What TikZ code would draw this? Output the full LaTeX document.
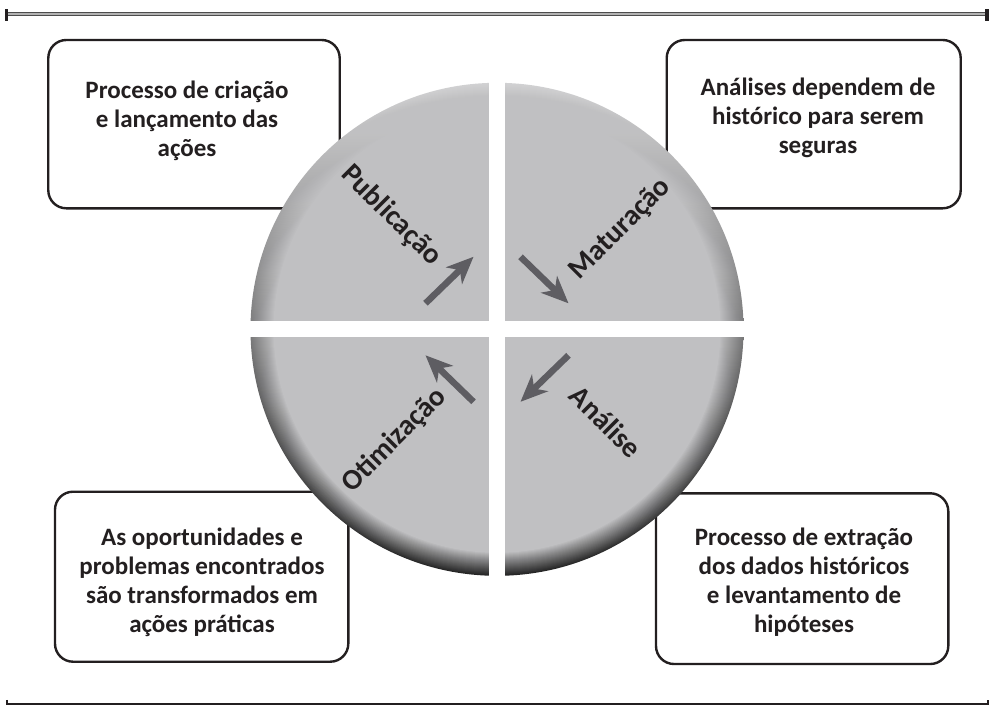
\documentclass[tikz,border=0pt]{standalone}
\usepackage{fontspec}
\setmainfont{Carlito}
\usepackage{tikz}
\usetikzlibrary{arrows.meta,positioning}
\definecolor{discface}{HTML}{C0C0C2}
\definecolor{discarrow}{HTML}{5E5D62}
\definecolor{inkblack}{HTML}{231F20}
\tikzset{
	note/.style={draw=inkblack, line width=1.2pt, rounded corners=9pt, fill=white, inner sep=0pt},
	note text/.style={align=center, text=inkblack, inner sep=0pt,
		font=\fontsize{12.5}{14.5}\selectfont\bfseries},
	phase/.style={text=inkblack, inner sep=0pt,
		font=\fontsize{14.5}{16}\selectfont\bfseries},
	ar/.style={draw=discarrow, line width=3.25pt,
		-{Stealth[length=13.5pt,width=11.5pt,inset=4pt]}},
	gap/.style={fill=white}
}

\begin{document}
\begin{tikzpicture}[x=0.5pt,y=0.5pt]
  \useasboundingbox (-497,-377.7) rectangle (492,329.3);
  % rules
  \draw[line width=2pt, draw=black!70] (-489,315) -- (488,315);
  \draw[line width=0.8pt, draw=black!30] (-489,315) -- (488,315);
  \fill[inkblack] (-492,308.6) rectangle (-489,320);
  \fill[inkblack] (488,308.6) rectangle (492,320);
  \draw[line width=1pt, draw=inkblack] (-489.5,-370.5) -- (-489.5,-374.7) -- (491.2,-374.7) -- (491.2,-370.5);

  % boxes
  \node[note, minimum width=145.7pt, minimum height=84.15pt] (publbox) at (-303,205.15) {};
  \node[note, minimum width=147pt, minimum height=84.15pt] (matbox) at (316.7,205.15) {};
  \node[note, minimum width=146.65pt, minimum height=85pt] (otibox) at (-295.35,-247.4) {};
  \node[note, minimum width=146.15pt, minimum height=85.35pt] (anabox) at (305.15,-249.35) {};
  \node[note text] (publtext) at (-310,208.3) {Processo de criação\\e lançamento das\\ações};
  \node[note text] (mattext) at (321,211.3) {Análises dependem de\\histórico para serem\\seguras};
  \node[note text] (otitext) at (-295,-252.7) {As oportunidades e\\problemas encontrados\\são transformados em\\ações práticas};
  \node[note text] (anatext) at (307,-252.7) {Processo de extração\\dos dados históricos\\e levantamento de\\hipóteses};

  % disc
  \shade[top color=discface!70!white, middle color=black!55, bottom color=black!88] (0,0) circle (246.5);
  \foreach \k in {1,...,24}{
    \pgfmathsetmacro\op{1/(25-\k)}
    \fill[discface, opacity=\op] (0,0) circle ({247.5-\k});
  }
  \fill[gap] (-7.9,-250) rectangle (7.9,250);
  \fill[gap] (-250,-8) rectangle (250,8);

  \node[phase, rotate=-45] (publ) at (-105.9,113.8) {Publicação};
  \node[phase, rotate=45] (mat) at (123.3,100.3) {Maturação};
  \node[phase, rotate=-45] (ana) at (108.8,-92.4) {Análise};
  \node[phase, rotate=45] (oti) at (-102.5,-111) {Otimização};

  \coordinate (publ_tail) at (-71.5,26);   \coordinate (publ_tip) at (-23.5,72.5);
  \coordinate (mat_tail) at (23.5,72.5);   \coordinate (mat_tip) at (71.5,26);
  \coordinate (ana_tail) at (71.5,-26);    \coordinate (ana_tip) at (23.5,-72.5);
  \coordinate (oti_tail) at (-23.5,-72.5); \coordinate (oti_tip) at (-71.5,-26);
  \draw[ar] (publ_tail) -- (publ_tip);
  \draw[ar] (mat_tail) -- (mat_tip);
  \draw[ar] (ana_tail) -- (ana_tip);
  \draw[ar] (oti_tail) -- (oti_tip);
\end{tikzpicture}
\end{document}
